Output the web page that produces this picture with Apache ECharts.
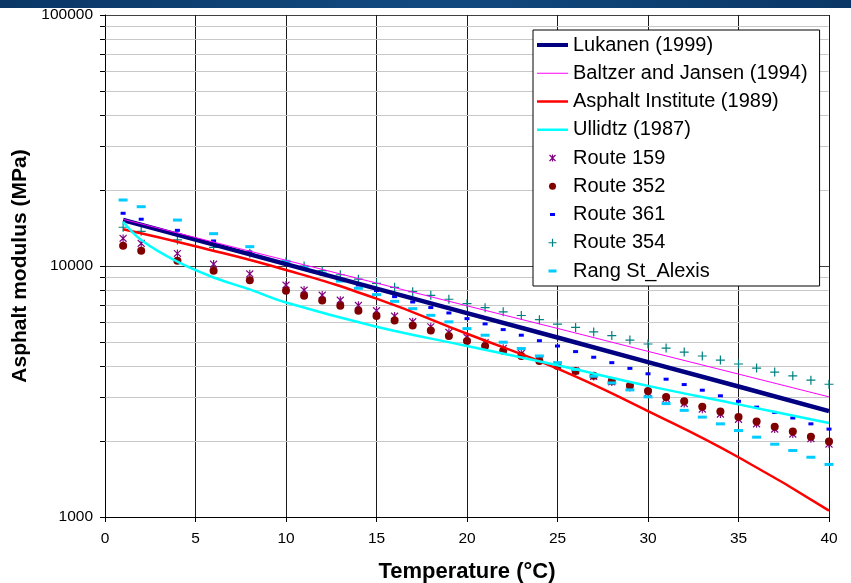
<!DOCTYPE html>
<html><head><meta charset="utf-8">
<script src="https://cdn.jsdelivr.net/npm/echarts@6/dist/echarts.min.js"></script>
<style>html,body{margin:0;padding:0;background:#fff}#c{width:851px;height:583px}</style>
</head><body><div id="c"></div>
<script>
// ---- axes ----
const xTicks = [0, 5, 10, 15, 20, 25, 30, 35, 40];
const yTicks = [1000, 10000, 100000];
const minorY = [2000, 3000, 4000, 5000, 6000, 7000, 8000, 9000,
                20000, 30000, 40000, 50000, 60000, 70000, 80000, 90000];

// ---- model curves ----
const modelT   = [1, 5, 10, 15, 20, 25, 30, 35, 40];
const lukanen  = [15250, 12740, 10170, 8120, 6490, 5190, 4140, 3310, 2640];
const baltzer  = [15350, 12980, 10540, 8550, 6940, 5640, 4570, 3710, 3010];
const asphaltInst = [14000, 11980, 9640, 7410, 5370, 3900, 2640, 1730, 1060];
const ullidtzT = [1, 2, 4, 6, 8, 10, 15, 20, 25, 30, 35, 40];
const ullidtz  = [15000, 12700, 10400, 9000, 8070, 7150, 5730, 4800, 4020, 3330, 2810, 2370];

// ---- field data ----
const fieldT = [1, 2, 4, 6, 8, 10, 11, 12, 13, 14, 15, 16, 17, 18, 19, 20, 21, 22, 23, 24, 25,
                26, 27, 28, 29, 30, 31, 32, 33, 34, 35, 36, 37, 38, 39, 40];
const route159 = [12880, 12300, 11220, 10180, 9310, 8400, 8020, 7660, 7310, 6970, 6640, 6320, 6000,
                  5730, 5440, 5200, 4950, 4700, 4490, 4220, 4020, 3820, 3630, 3450, 3280, 3120,
                  2960, 2830, 2690, 2570, 2450, 2350, 2240, 2140, 2050, 1950];
const route352 = [12050, 11510, 10500, 9580, 8780, 7970, 7620, 7280, 6950, 6640, 6320, 6060, 5790,
                  5530, 5260, 5020, 4800, 4600, 4380, 4180, 4000, 3820, 3650, 3480, 3330, 3180,
                  3010, 2890, 2750, 2630, 2500, 2400, 2290, 2190, 2090, 2000];
const route361 = [16220, 15360, 13870, 12580, 11380, 10280, 9770, 9290, 8830, 8400, 7980, 7550, 7190,
                  6830, 6500, 6170, 5880, 5580, 5300, 5040, 4800, 4560, 4330, 4120, 3910, 3720,
                  3540, 3370, 3200, 3040, 2890, 2740, 2610, 2480, 2350, 2240];
const route354 = [14270, 13750, 12700, 11870, 11240, 10400, 10000, 9580, 9230, 8860, 8530, 8220, 7900,
                  7640, 7370, 7080, 6820, 6570, 6350, 6110, 5870, 5690, 5460, 5280, 5070, 4890,
                  4710, 4540, 4380, 4220, 4070, 3920, 3780, 3650, 3510, 3380];
const rangStAlexis = [18320, 17230, 15240, 13450, 11940, 10440, 9850, 9350, 8710, 8150, 7690, 7230, 6760,
                  6360, 5990, 5630, 5300, 4970, 4690, 4380, 4120, 3870, 3640, 3420, 3210, 3010,
                  2830, 2660, 2500, 2350, 2210, 2080, 1950, 1840, 1730, 1620];

const FONT = "'Liberation Sans', Arial, sans-serif";
const pair = (xs, ys) => xs.map((x, i) => [x, ys[i]]);
const svgIcon = body => 'image://data:image/svg+xml;charset=utf-8,' + encodeURIComponent(
  '<svg xmlns="http://www.w3.org/2000/svg" width="31" height="14" viewBox="0 0 31 14">' + body + '</svg>');

const icons = {
  'Lukanen (1999)': svgIcon('<line x1="0" y1="7" x2="31" y2="7" stroke="#000080" stroke-width="4"/>'),
  'Baltzer and Jansen (1994)': svgIcon('<line x1="0" y1="7" x2="31" y2="7" stroke="#ff00ff" stroke-width="1"/>'),
  'Asphalt Institute (1989)': svgIcon('<line x1="0" y1="7" x2="31" y2="7" stroke="#ff0000" stroke-width="2.5"/>'),
  'Ullidtz (1987)': svgIcon('<line x1="0" y1="7" x2="31" y2="7" stroke="#00ffff" stroke-width="2.5"/>'),
  'Route 159': svgIcon('<path d="M12.5,4L18.5,10M18.5,4L12.5,10M15.5,3.5L15.5,10.5" stroke="#800080" stroke-width="1.2" fill="none"/>'),
  'Route 352': svgIcon('<circle cx="15.5" cy="7" r="3.5" fill="#800000"/>'),
  'Route 361': svgIcon('<rect x="13" y="5.5" width="5" height="3" fill="#0000ff"/>'),
  'Route 354': svgIcon('<path d="M15.5,3L15.5,11M11.5,7L19.5,7" stroke="#008080" stroke-width="1.2" fill="none"/>'),
  'Rang St_Alexis': svgIcon('<rect x="11.5" y="5.5" width="8" height="3" fill="#00ccff"/>')
};

const chart = echarts.init(document.getElementById('c'));
chart.setOption({
  animation: false,
  backgroundColor: '#fff',
  textStyle: { fontFamily: FONT },
  graphic: [{
    type: 'rect', left: 0, top: 0, shape: { width: 851, height: 8 }, z: 100,
    style: { fill: new echarts.graphic.LinearGradient(0, 0, 1, 0, [
      { offset: 0, color: '#0a3766' }, { offset: 0.5, color: '#124a80' }, { offset: 1, color: '#0a3766' }]) }
  }],
  grid: { left: 105, right: 22, top: 15, bottom: 66, containLabel: false, outerBoundsMode: 'none' },
  legend: {
    orient: 'vertical', left: 533, top: 30,
    padding: [5, 12, 5, 4],
    backgroundColor: '#fff', borderColor: '#000', borderWidth: 1, borderRadius: 0,
    itemWidth: 31, itemHeight: 14, itemGap: 8.25,
    textStyle: { fontSize: 20, color: '#000', fontFamily: FONT, lineHeight: 20 },
    data: Object.keys(icons).map(n => ({ name: n, icon: icons[n] })),
    selectedMode: false
  },
  xAxis: {
    type: 'value', min: xTicks[0], max: xTicks[xTicks.length - 1], interval: 5,
    axisLine: { onZero: false, lineStyle: { color: '#000', width: 1 } },
    axisTick: { show: true, length: 5, lineStyle: { color: '#000' } },
    axisLabel: { fontSize: 15.5, color: '#000', margin: 14, fontFamily: FONT },
    splitLine: { show: true, lineStyle: { color: '#1a1a1a', width: 1 } },
    name: 'Temperature (°C)', nameLocation: 'middle', nameGap: 44,
    nameTextStyle: { fontSize: 22, fontWeight: 'bold', color: '#000', fontFamily: FONT }
  },
  yAxis: {
    type: 'log', logBase: 10, min: yTicks[0], max: yTicks[yTicks.length - 1],
    axisLine: { show: true, onZero: false, lineStyle: { color: '#000', width: 1 } },
    axisTick: { show: true, length: 5, lineStyle: { color: '#000' } },
    axisLabel: { fontSize: 15.5, color: '#000', margin: 12, fontFamily: FONT,
                 formatter: v => String(Math.round(v)) },
    splitLine: { show: true, lineStyle: { color: '#404040', width: 1 } },
    name: 'Asphalt modulus (MPa)', nameLocation: 'middle', nameGap: 71,
    nameTextStyle: { fontSize: 21, fontWeight: 'bold', color: '#000', fontFamily: FONT }
  },
  series: [
    {
      type: 'custom', name: 'minor', silent: true, clip: false,
      data: minorY.map(v => [xTicks[0], v]),
      encode: { x: 0, y: 1 },
      renderItem: (params, api) => {
        const v = api.value(1);
        const p0 = api.coord([xTicks[0], v]);
        const p1 = api.coord([xTicks[xTicks.length - 1], v]);
        const y = Math.round(p0[1]) + 0.5;
        return { type: 'group', children: [
          { type: 'line', shape: { x1: p0[0] + 0.5, y1: y, x2: p1[0] - 0.5, y2: y },
            style: { stroke: '#c8c8c8', lineWidth: 1 } },
          { type: 'line', shape: { x1: p0[0] - 5, y1: y, x2: p0[0], y2: y },
            style: { stroke: '#000', lineWidth: 1 } }
        ] };
      }
    },
    { name: 'Lukanen (1999)', type: 'line', data: pair(modelT, lukanen), symbol: 'none',
      lineStyle: { color: '#000080', width: 4.5 }, itemStyle: { color: '#000080' } },
    { name: 'Baltzer and Jansen (1994)', type: 'line', data: pair(modelT, baltzer), symbol: 'none',
      lineStyle: { color: '#ff00ff', width: 1 }, itemStyle: { color: '#ff00ff' } },
    { name: 'Asphalt Institute (1989)', type: 'line', data: pair(modelT, asphaltInst), symbol: 'none', smooth: 0.5,
      lineStyle: { color: '#ff0000', width: 2.5 }, itemStyle: { color: '#ff0000' } },
    { name: 'Ullidtz (1987)', type: 'line', data: pair(ullidtzT, ullidtz), symbol: 'none', smooth: 0.4,
      lineStyle: { color: '#00ffff', width: 2.5 }, itemStyle: { color: '#00ffff' } },
    { name: 'Route 159', type: 'scatter', data: pair(fieldT, route159),
      symbol: 'path://M0,1L10,11M10,1L0,11M5,0L5,12', symbolSize: [7, 8],
      itemStyle: { color: 'rgba(0,0,0,0)', borderColor: '#800080', borderWidth: 1.2, opacity: 1 } },
    { name: 'Route 352', type: 'scatter', data: pair(fieldT, route352),
      symbol: 'circle', symbolSize: 8, itemStyle: { color: '#800000', opacity: 1 } },
    { name: 'Route 361', type: 'scatter', data: pair(fieldT, route361),
      symbol: 'rect', symbolSize: [5, 3], itemStyle: { color: '#0000ff', opacity: 1 } },
    { name: 'Route 354', type: 'scatter', data: pair(fieldT, route354),
      symbol: 'path://M5,0L5,10M0,5L10,5', symbolSize: 9,
      itemStyle: { color: 'rgba(0,0,0,0)', borderColor: '#008080', borderWidth: 1.2, opacity: 1 } },
    { name: 'Rang St_Alexis', type: 'scatter', data: pair(fieldT, rangStAlexis),
      symbol: 'rect', symbolSize: [9, 3], itemStyle: { color: '#00ccff', opacity: 1 } }
  ]
});
</script>
</body></html>
